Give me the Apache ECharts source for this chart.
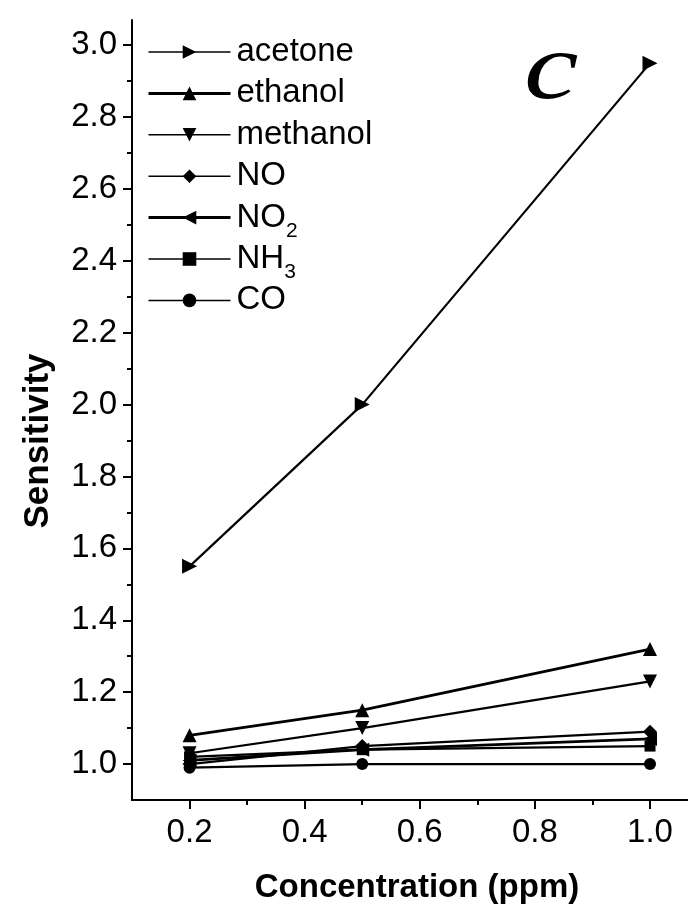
<!DOCTYPE html>
<html>
<head>
<meta charset="utf-8">
<script src="https://cdn.jsdelivr.net/npm/echarts@6/dist/echarts.min.js"></script>
<style>
  html, body { margin: 0; padding: 0; background: #fff; }
  #chart { width: 688px; height: 909px; }
</style>
</head>
<body>
<div id="chart"></div>
<script>
// Gas concentrations (ppm) and sensor response for each analyte
const concentrations = [0.2, 0.5, 1.0];
const acetone  = [1.55, 2.00, 2.95];
const ethanol  = [1.08, 1.15, 1.32];
const methanol = [1.03, 1.10, 1.23];
const no       = [1.00, 1.05, 1.09];
const no2      = [1.01, 1.04, 1.07];
const nh3      = [1.02, 1.04, 1.05];
const co       = [0.99, 1.00, 1.00];

// Axis tick positions and labels
const xMajorTicks = [0.2, 0.4, 0.6, 0.8, 1.0];
const xMinorTicks = [0.3, 0.5, 0.7, 0.9];
const yMajorTicks = [1.0, 1.2, 1.4, 1.6, 1.8, 2.0, 2.2, 2.4, 2.6, 2.8, 3.0];
const yMinorTicks = [1.1, 1.3, 1.5, 1.7, 1.9, 2.1, 2.3, 2.5, 2.7, 2.9];

const FONT = '"Liberation Sans", Arial, sans-serif';
const INK = '#000';

// series: name, values, marker, rotation, line width, marker size
const seriesDefs = [
  ['acetone',  acetone,  'triangle', -90, 2.2, 15],
  ['ethanol',  ethanol,  'triangle',   0, 2.8, 14],
  ['methanol', methanol, 'triangle', 180, 2.2, 14],
  ['NO',       no,       'diamond',    0, 2.2, 14],
  ['NO2',      no2,      'triangle',  90, 2.8, 14],
  ['NH3',      nh3,      'rect',       0, 2.2, 11],
  ['CO',       co,       'circle',     0, 2.2, 12]
];

const chart = echarts.init(document.getElementById('chart'), null, { renderer: 'canvas' });

const axisCommon = {
  axisLine: { show: true, onZero: false, lineStyle: { color: INK, width: 2 } },
  splitLine: { show: false }
};

chart.setOption({
  animation: false,
  backgroundColor: '#fff',
  grid: { left: 132, right: 0, top: 20, bottom: 109, containLabel: false, outerBoundsMode: 'none' },
  legend: {
    orient: 'vertical',
    left: 147,
    top: 28,
    padding: 0,
    itemWidth: 82,
    itemHeight: 17,
    itemGap: -6.6,
    textStyle: {
      fontFamily: FONT, fontSize: 33, color: INK, lineHeight: 48,
      padding: [0, 0, 0, 1],
      rich: {
        sub: { fontFamily: FONT, fontSize: 21, color: INK, lineHeight: 20, verticalAlign: 'bottom' }
      }
    },
    formatter: function (name) {
      return name.replace(/^(N[OH])(\d)$/, '$1{sub|$2}');
    },
    data: seriesDefs.map(d => ({ name: d[0], lineStyle: { width: d[4] > 2.5 ? 3 : 1.5 } }))
  },
  graphic: [{
    type: 'text',
    left: 524,
    top: 25,
    scaleX: 1.28,
    style: {
      text: 'c',
      font: 'italic 96px "Liberation Serif", "DejaVu Serif", serif',
      fill: INK
    }
  }],
  xAxis: [{
    type: 'value', min: 0.1, max: 1.066,
    ...axisCommon,
    name: 'Concentration (ppm)',
    nameLocation: 'middle',
    nameGap: 71,
    nameTextStyle: { fontFamily: FONT, fontSize: 33, fontWeight: 'bold', color: INK, padding: [0, 0, 0, 14] },
    axisTick: { show: true, inside: false, length: 9, lineStyle: { color: INK, width: 2 }, customValues: xMajorTicks },
    axisLabel: { show: true, margin: 16, fontFamily: FONT, fontSize: 33, color: INK,
                 customValues: xMajorTicks, formatter: v => v.toFixed(1) }
  }, {
    type: 'value', min: 0.1, max: 1.066, position: 'bottom',
    axisLine: { show: false }, splitLine: { show: false },
    axisTick: { show: true, inside: false, length: 5, lineStyle: { color: INK, width: 2 }, customValues: xMinorTicks },
    axisLabel: { show: false }
  }],
  yAxis: [{
    type: 'value', min: 0.9, max: 3.07,
    ...axisCommon,
    name: 'Sensitivity',
    nameLocation: 'middle',
    nameGap: 76,
    nameTextStyle: { fontFamily: FONT, fontSize: 35, fontWeight: 'bold', color: INK, padding: [0, 62, 0, 0] },
    axisTick: { show: true, inside: false, length: 9, lineStyle: { color: INK, width: 2 }, customValues: yMajorTicks },
    axisLabel: { show: true, margin: 15, fontFamily: FONT, fontSize: 33, color: INK,
                 customValues: yMajorTicks, formatter: v => v.toFixed(1) }
  }, {
    type: 'value', min: 0.9, max: 3.07, position: 'left',
    axisLine: { show: false }, splitLine: { show: false },
    axisTick: { show: true, inside: false, length: 5, lineStyle: { color: INK, width: 2 }, customValues: yMinorTicks },
    axisLabel: { show: false }
  }],
  series: seriesDefs.map(([name, vals, sym, rot, lw, size]) => ({
    name: name,
    type: 'line',
    xAxisIndex: 0,
    yAxisIndex: 0,
    data: concentrations.map((c, i) => [c, vals[i]]),
    symbol: sym,
    symbolRotate: rot,
    symbolSize: size,
    showAllSymbol: true,
    lineStyle: { color: INK, width: lw },
    itemStyle: { color: INK, borderWidth: 0 },
    emphasis: { disabled: true }
  }))
});
</script>
</body>
</html>
